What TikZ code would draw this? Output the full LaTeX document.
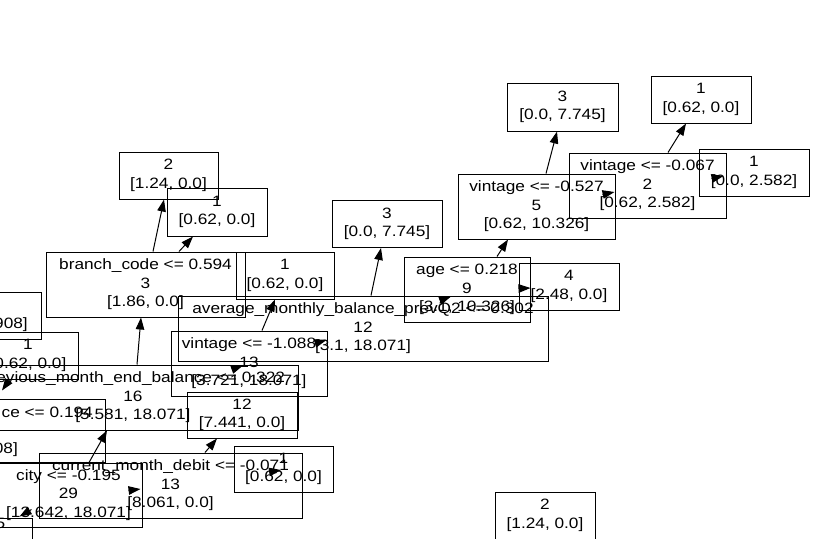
\documentclass[tikz,border=0pt]{standalone}
\usepackage{fontspec}
\setmainfont{Liberation Sans}[FakeStretch=1.15]
\usetikzlibrary{arrows.meta,calc}
\begin{document}
\begin{tikzpicture}[x=1pt,y=-1pt,
  box/.style={draw, line width=1pt, inner sep=0pt, align=center,
    font=\fontsize{15}{18.5}\selectfont},
  frag/.style={inner sep=0pt, font=\fontsize{15}{18.5}\selectfont},
  edge/.style={line width=1pt, -{Triangle[length=12pt,width=8.5pt]}}]
\useasboundingbox (0,0) rectangle (813,538);
% leaves / internal nodes
\node[box, minimum width=111, minimum height=48] (A) at (562.5,107) {3\\{}[0.0, 7.745]};
\node[box, minimum width=100, minimum height=47] (B) at (701,99.5) {1\\{}[0.62, 0.0]};
\node[box, minimum width=157, minimum height=65] (C) at (647.5,185.5) {vintage <= -0.067\\2\\{}[0.62, 2.582]};
\node[box, minimum width=110, minimum height=47] (D) at (754,172.5) {1\\{}[0.0, 2.582]};
\node[box, minimum width=157, minimum height=65] (E) at (536.5,206.5) {vintage <= -0.527\\5\\{}[0.62, 10.326]};
\node[box, minimum width=126, minimum height=65] (F) at (467,289.5) {age <= 0.218\\9\\{}[3.1, 10.326]};
\node[box, minimum width=100, minimum height=47] (G) at (569,286.5) {4\\{}[2.48, 0.0]};
\node[box, minimum width=110, minimum height=47] (H) at (387,224) {3\\{}[0.0, 7.745]};
\node[box, minimum width=98, minimum height=47] (I) at (285,275.5) {1\\{}[0.62, 0.0]};
\node[box, minimum width=199, minimum height=65] (J) at (145.5,284.5) {branch\_code <= 0.594\\3\\{}[1.86, 0.0]};
\node[box, minimum width=99, minimum height=47] (K) at (168.5,175.5) {2\\{}[1.24, 0.0]};
\node[box, minimum width=100, minimum height=48] (L) at (217,212) {1\\{}[0.62, 0.0]};
\node[box, minimum width=370, minimum height=65] (M) at (363,328.5) {average\_monthly\_balance\_prevQ2 <= 0.302\\12\\{}[3.1, 18.071]};
\node[box, minimum width=156, minimum height=65] (N) at (249,363.5) {vintage <= -1.088\\13\\{}[3.721, 18.071]};
\node[box, minimum width=110, minimum height=46] (O) at (242,415) {12\\{}[7.441, 0.0]};
\node[box, minimum width=330, minimum height=65] (P) at (133,397.5) {previous\_month\_end\_balance <= 0.322\\16\\{}[5.581, 18.071]};
\node[box, minimum width=100, minimum height=47] (Q) at (28,355.5) {1\\{}[0.62, 0.0]};
\node[box, minimum width=263, minimum height=65] (R) at (170.5,485.5) {current\_month\_debit <= -0.071\\13\\{}[8.061, 0.0]};
\node[box, minimum width=99, minimum height=46] (S) at (283.5,469) {1\\{}[0.62, 0.0]};
\node[box, minimum width=147, minimum height=64] (T) at (68.5,495) {city <= -0.195\\29\\{}[13.642, 18.071]};
\node[box, minimum width=100, minimum height=47] (X) at (545,515.5) {2\\{}[1.24, 0.0]};
% boxes cut by the left edge
\node[box, minimum width=150, minimum height=47] (U) at (-34,315.5) {};
\node[box, minimum width=300, minimum height=63] (V) at (-45,430.5) {};
\node[box, minimum width=144, minimum height=47] (W) at (-40,541.5) {};
\node[frag, anchor=base east] (U3) at (28,328) {908]};
\node[frag, anchor=base east] (V1) at (93,417) {ce <= 0.194};
\node[frag, anchor=base east] (V3) at (18,453) {08]};
\node[frag, anchor=base east] (W1) at (5.5,528) {5};
% ordinary edges
\draw[edge] ($(E.north)+(9.5,0)$) -- ($(A.south)+(-5.5,0)$);
\draw[edge] ($(C.north)+(20.5,0)$) -- ($(B.south)+(-15,0)$);
\draw[edge] ($(F.north)+(30,0)$) -- ($(E.south)+(-28.5,0)$);
\draw[edge] ($(M.north)+(8,0)$) -- ($(H.south)+(-6,0)$);
\draw[edge] ($(N.north)+(13,0)$) -- ($(I.south)+(-10,0)$);
\draw[edge] ($(J.north)+(7.5,0)$) -- ($(K.south)+(-4.5,0)$);
\draw[edge] ($(J.north)+(33.5,0)$) -- ($(L.south)+(-24,0)$);
\draw[edge] ($(P.north)+(4,0)$) -- ($(J.south)+(-4.5,0)$);
\draw[edge] ($(T.north)+(20.5,0)$) -- ($(P.south)+(-26,0)$);
\draw[edge] ($(R.north)+(34.5,0)$) -- ($(O.south)+(-25,0)$);
% collapsed edges (only the arrowhead shows)
\draw[edge] ($(E.east)+(-13,-12)$) -- ($(E.east)+(-1,-14.5)$);
\draw[edge] ($(C.east)+(-15,-7)$) -- ($(C.east)+(-3,-9.5)$);
\draw[edge] ($(F.east)+(-12,-1)$) -- ($(F.east)+(0,-1.5)$);
\draw[edge] ($(M.north)+(77,5)$) -- ($(M.north)+(88,1)$);
\draw[edge] ($(P.north)+(99,5)$) -- ($(P.north)+(110,1)$);
\draw[edge] ($(N.east)+(-13,-20)$) -- ($(N.east)+(-1,-23.5)$);
\draw[edge] ($(T.east)+(-14,-4.5)$) -- ($(T.east)+(-2,-6)$);
\draw[edge] ($(S.center)+(-14.5,3)$) -- ($(S.center)+(-2.5,1)$);
\draw[edge] ($(Q.south)+(-19,1)$) -- ($(Q.south)+(-26,11)$);
\draw[edge] ($(T.south west)+(37,-18)$) -- ($(T.south west)+(25,-11)$);
\end{tikzpicture}
\end{document}
